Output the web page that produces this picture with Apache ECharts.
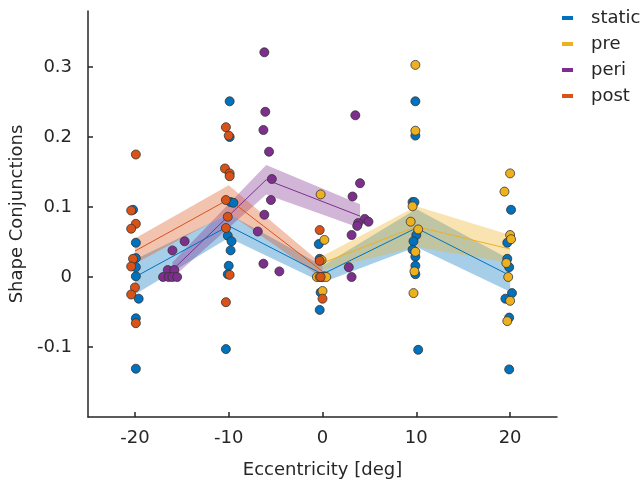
<!DOCTYPE html>
<html>
<head>
<meta charset="utf-8">
<script src="https://cdn.jsdelivr.net/npm/echarts@6.0.0/dist/echarts.min.js"></script>
<style>
  html, body { margin: 0; padding: 0; background: #fff; }
  #chart { width: 641px; height: 487px; }
</style>
</head>
<body>
<div id="chart"></div>
<script>
// tick values
const xTicks = [-20, -10, 0, 10, 20]
const yTicks = [-0.1, 0, 0.1, 0.2, 0.3]

// mean +/- error per condition
const staticX = [-20, -10, 0, 10, 20]
const staticMean = [0.0, 0.073, 0.004, 0.070, 0.002]
const staticErr = [0.025, 0.017, 0.012, 0.027, 0.023]

const preX = [0, 10, 20]
const preMean = [0.020, 0.072, 0.040]
const preErr = [0.010, 0.029, 0.020]

const periX = [-16, -6, 4]
const periMean = [0.010, 0.139, 0.087]
const periErr = [0.011, 0.021, 0.017]

const postX = [-20, -10, 0]
const postMean = [0.037, 0.111, 0.008]
const postErr = [0.018, 0.020, 0.010]

// single observations (x is jittered)
const staticPtX = [-20.2, -19.9, -19.9, -19.9, -19.9, -19.6, -19.9, -19.9,
  -9.9, -9.9, -9.8, -9.5, -10.1, -9.7, -9.8, -10.0, -10.1, -10.3,
  -0.4, -0.3, 0.2, -0.2, -0.3,
  9.9, 9.9, 9.6, 9.8, 10.0, 9.7, 9.6, 9.9, 9.9, 9.9, 10.2,
  20.1, 19.7, 19.7, 19.9, 20.2, 19.5, 19.9, 19.9]
const staticPtY = [0.096, 0.049, 0.027, 0.014, 0.001, -0.031, -0.059, -0.131,
  0.251, 0.200, 0.107, 0.106, 0.059, 0.051, 0.038, 0.016, 0.004, -0.103,
  0.047, 0.026, 0.001, -0.022, -0.047,
  0.251, 0.202, 0.107, 0.107, 0.060, 0.051, 0.039, 0.029, 0.016, 0.004, -0.104,
  0.096, 0.049, 0.026, 0.014, -0.023, -0.031, -0.058, -0.132]

const prePtX = [-0.2, 0.2, -0.1, -0.6, -0.3, 0.0, 0.4, 0.0,
  9.9, 9.9, 9.6, 9.4, 10.2, 9.9, 9.8, 9.7,
  20.0, 19.4, 20.0, 20.1, 19.6, 19.8, 20.0, 19.7]
const prePtY = [0.118, 0.053, 0.024, 0.0, 0.0, 0.0, 0.0, -0.020,
  0.303, 0.209, 0.101, 0.079, 0.068, 0.036, 0.008, -0.023,
  0.148, 0.122, 0.060, 0.054, 0.020, 0.0, -0.034, -0.063]

const periPtX = [-14.7, -16.0, -16.5, -15.8, -17.0, -16.4, -16.0, -15.5,
  -6.2, -6.1, -6.3, -5.7, -5.4, -5.5, -6.2, -6.9, -6.3, -4.6,
  3.5, 4.0, 3.2, 4.5, 4.9, 3.8, 3.7, 3.1, 2.8, 3.1]
const periPtY = [0.051, 0.038, 0.010, 0.010, 0.0, 0.0, 0.0, 0.0,
  0.321, 0.236, 0.210, 0.179, 0.140, 0.110, 0.089, 0.065, 0.019, 0.008,
  0.231, 0.134, 0.115, 0.083, 0.079, 0.077, 0.073, 0.060, 0.014, 0.0]

const postPtX = [-19.9, -20.4, -19.9, -20.4, -20.2, -20.4, -20.0, -20.4, -19.9,
  -10.3, -10.0, -10.4, -9.9, -9.9, -10.3, -10.1, -10.3, -9.9, -10.3,
  -0.3, -0.3, -0.2, 0.0]
const postPtY = [0.175, 0.095, 0.076, 0.069, 0.026, 0.015, -0.015, -0.025, -0.066,
  0.214, 0.202, 0.155, 0.148, 0.144, 0.110, 0.086, 0.070, 0.003, -0.036,
  0.067, 0.023, 0.0, -0.031]

const names = ['static', 'pre', 'peri', 'post']
const colors = ['#0072BD', '#EDB120', '#7E2F8E', '#D95319']

const FONT = 'DejaVu Sans'
const INK = '#262626'

// shaded band = polygon through mean+err and back along mean-err
function band(name, xs, mean, err, color) {
  return {
    type: 'custom',
    name: name + '-band',
    silent: true,
    z: 1,
    data: xs.map((x, i) => [x, mean[i]]),
    renderItem(params, api) {
      if (params.dataIndex !== 0) return
      const upper = xs.map((x, i) => api.coord([x, mean[i] + err[i]]))
      const lower = xs.map((x, i) => api.coord([x, mean[i] - err[i]])).reverse()
      return {
        type: 'polygon',
        shape: { points: upper.concat(lower) },
        style: { fill: color, opacity: 0.35 }
      }
    }
  }
}

function meanLine(name, xs, mean, color) {
  return {
    type: 'line',
    name: name + '-mean',
    silent: true,
    z: 2,
    symbol: 'none',
    data: xs.map((x, i) => [x, mean[i]]),
    lineStyle: { color: color, width: 1 }
  }
}

function points(name, xs, ys, color) {
  return {
    type: 'scatter',
    name: name,
    z: 3,
    symbolSize: 9,
    data: xs.map((x, i) => [x, ys[i]]),
    itemStyle: { color: color, borderColor: '#333', borderWidth: 0.8, opacity: 1 }
  }
}

const groups = [
  [staticX, staticMean, staticErr, staticPtX, staticPtY],
  [preX, preMean, preErr, prePtX, prePtY],
  [periX, periMean, periErr, periPtX, periPtY],
  [postX, postMean, postErr, postPtX, postPtY]
]

const series = []
groups.forEach((g, k) => series.push(band(names[k], g[0], g[1], g[2], colors[k])))
groups.forEach((g, k) => series.push(meanLine(names[k], g[0], g[1], colors[k])))
groups.forEach((g, k) => series.push(points(names[k], g[3], g[4], colors[k])))

const chart = echarts.init(document.getElementById('chart'), null, { renderer: 'canvas' })
chart.setOption({
  animation: false,
  textStyle: { fontFamily: FONT, color: INK },
  grid: { left: 88, right: 84, top: 11, bottom: 70 },
  legend: {
    data: names,
    orient: 'vertical',
    left: 557,
    top: 4,
    icon: 'rect',
    itemWidth: 11,
    itemHeight: 4,
    itemGap: 8,
    itemStyle: { borderWidth: 0 },
    textStyle: { fontFamily: FONT, fontSize: 18, color: INK, padding: [0, 0, 0, 13] }
  },
  xAxis: {
    type: 'value',
    min: -25,
    max: 25,
    name: 'Eccentricity [deg]',
    nameLocation: 'middle',
    nameGap: 44,
    nameTextStyle: { fontFamily: FONT, fontSize: 18, color: INK },
    axisLine: { onZero: false, lineStyle: { color: INK, width: 1.5 } },
    axisTick: { inside: true, length: 5, customValues: xTicks, lineStyle: { color: INK, width: 1.5 } },
    axisLabel: { customValues: xTicks, margin: 12, fontFamily: FONT, fontSize: 18, color: INK },
    splitLine: { show: false }
  },
  yAxis: {
    type: 'value',
    min: -0.2,
    max: 0.38,
    name: 'Shape Conjunctions',
    nameLocation: 'middle',
    nameGap: 60,
    nameTextStyle: { fontFamily: FONT, fontSize: 18, color: INK },
    axisLine: { show: true, onZero: false, lineStyle: { color: INK, width: 1.5 } },
    axisTick: { show: true, inside: true, length: 5, customValues: yTicks, lineStyle: { color: INK, width: 1.5 } },
    axisLabel: {
      customValues: yTicks,
      margin: 16,
      fontFamily: FONT,
      fontSize: 18,
      color: INK,
      formatter: v => String(Math.round(v * 10) / 10)
    },
    splitLine: { show: false }
  },
  series: series
})
</script>
</body>
</html>
